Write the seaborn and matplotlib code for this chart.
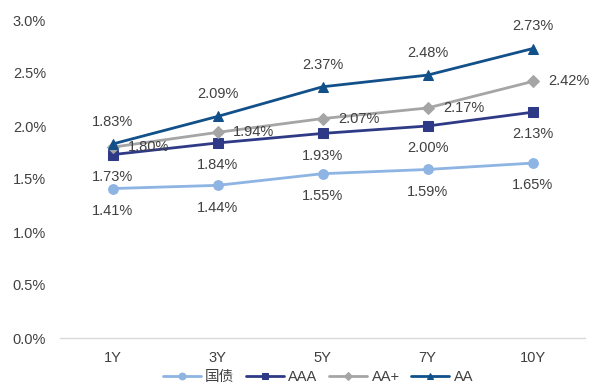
import numpy as np
import pandas as pd
import matplotlib
matplotlib.use("Agg")
import matplotlib.pyplot as plt
import seaborn as sns

categories = ["1Y", "3Y", "5Y", "7Y", "10Y"]
series_names = ["国债", "AAA", "AA+", "AA"]
guozhai = [1.41, 1.44, 1.55, 1.59, 1.65]
aaa = [1.73, 1.84, 1.93, 2.00, 2.13]
aa_plus = [1.80, 1.94, 2.07, 2.17, 2.42]
aa = [1.83, 2.09, 2.37, 2.48, 2.73]
yticks = [0.0, 0.5, 1.0, 1.5, 2.0, 2.5, 3.0]

sns.set_theme(style="white")
plt.rcParams['font.family'] = ['Liberation Sans', 'Noto Sans CJK SC', 'DejaVu Sans']

fig = plt.figure(figsize=(5.94, 3.90), dpi=100)
ax = fig.add_axes([60/594, 1-338/390, 525/594, 318/390])

xpos = np.arange(len(categories))
values = [guozhai, aaa, aa_plus, aa]
colors = ["#8DB4E2", "#2F3A86", "#A5A5A5", "#115089"]
markers = ["o", "s", "D", "^"]
msizes = [7, 7, 6, 7]
# label offsets in points (dx, dy)
offsets = [(0, -16), (0, -16), (26, 0), (0, 16)]

for name, vals, c, m, ms, (dx, dy) in zip(series_names, values, colors, markers, msizes, offsets):
    sns.lineplot(x=xpos, y=vals, ax=ax, color=c, marker=m, markersize=ms,
                 markeredgecolor=c, linewidth=2, label=name)
    for x, v in zip(xpos, vals):
        ax.annotate(f"{v:.2f}%", (x, v), xytext=(dx, dy), textcoords="offset points",
                    ha="center", va="center", fontsize=10.5, color="#404040")

ax.set_xlim(-0.5, len(categories) - 0.5)
ax.set_ylim(0, 3.0)
ax.set_yticks(yticks)
ax.set_yticklabels([f"{t:.1f}%" for t in yticks], fontsize=10.5, color="#404040")
ax.set_xticks(xpos)
ax.set_xticklabels(categories, fontsize=10.5, color="#404040")
ax.set_xticks(np.arange(-0.5, len(categories), 1.0), minor=True)
ax.tick_params(axis="x", which="major", length=0, pad=9)
ax.tick_params(axis="x", which="minor", length=5, color="#D9D9D9", width=1, direction="out")
ax.tick_params(axis="y", length=0, pad=10)
for s in ["top", "right", "left"]:
    ax.spines[s].set_visible(False)
ax.spines["bottom"].set_color("#D9D9D9")
ax.spines["bottom"].set_linewidth(1)
ax.grid(False)

handles, labels = ax.get_legend_handles_labels()
ax.get_legend().remove()
leg = fig.legend(handles, labels, loc="center", bbox_to_anchor=(318/594, 1-377/390), ncol=4,
                 frameon=False, fontsize=10.5, handlelength=2.6, handletextpad=0.3,
                 columnspacing=0.8, markerscale=0.7, borderaxespad=0, borderpad=0)
for t in leg.get_texts():
    t.set_color("#404040")

fig.savefig("out.png", dpi=100)
